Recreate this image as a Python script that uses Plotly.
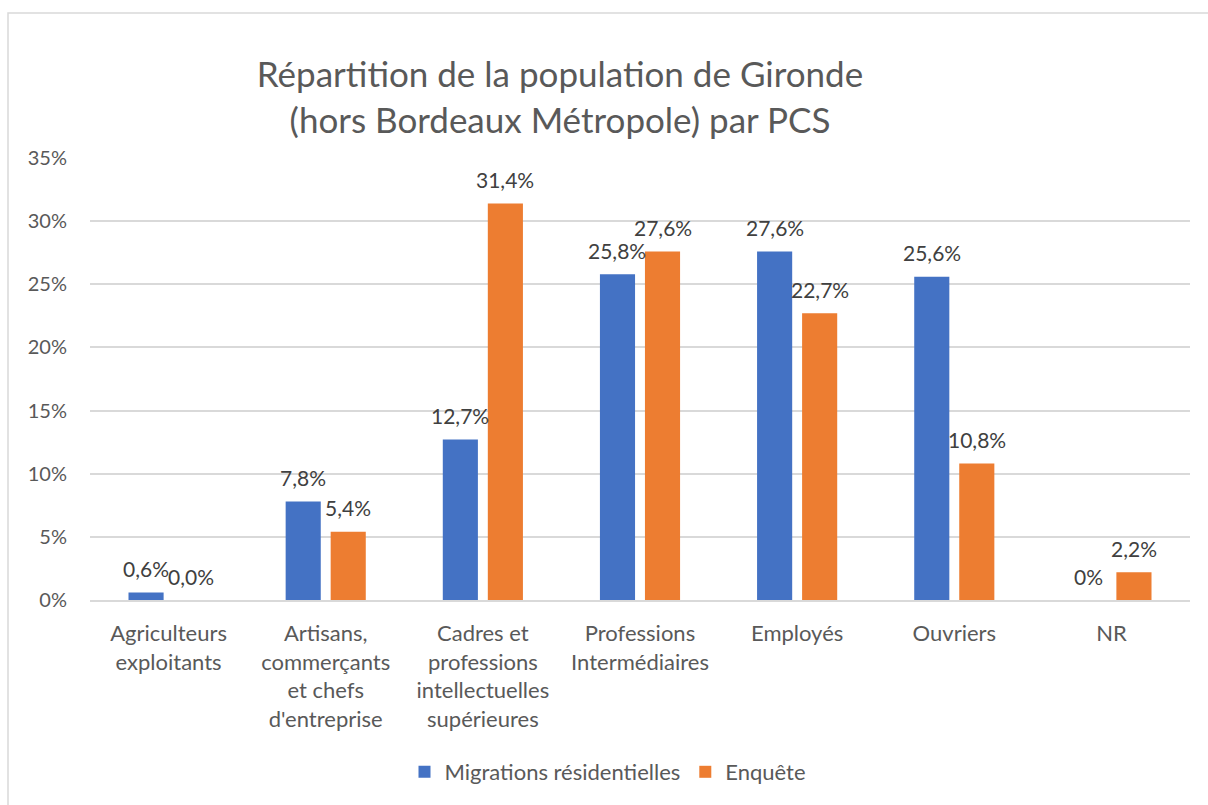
import plotly.graph_objects as go

categories = ["Agriculteurs<br>exploitants", "Artisans,<br>commerçants<br>et chefs<br>d'entreprise",
              "Cadres et<br>professions<br>intellectuelles<br>supérieures", "Professions<br>Intermédiaires",
              "Employés", "Ouvriers", "NR"]
migrations = [0.006, 0.078, 0.127, 0.258, 0.276, 0.256, 0.0]
migrations_labels = ["0,6%", "7,8%", "12,7%", "25,8%", "27,6%", "25,6%", "0%"]
enquete = [0.0, 0.054, 0.314, 0.276, 0.227, 0.108, 0.022]
enquete_labels = ["0,0%", "5,4%", "31,4%", "27,6%", "22,7%", "10,8%", "2,2%"]
y_ticks = [0, 0.05, 0.10, 0.15, 0.20, 0.25, 0.30, 0.35]
y_tick_labels = ["0%", "5%", "10%", "15%", "20%", "25%", "30%", "35%"]

FONT = "Lato"
BLUE, ORANGE = "#4472C4", "#ED7D31"
L, R, T, B = 90, 18, 158, 205
W, H = 1208, 805
pw, ph = W - L - R, H - T - B
BARGAP, BARGROUPGAP = 0.427, 0.22

fig = go.Figure()
fig.add_trace(go.Bar(x=categories, y=migrations, name="Migrations résidentielles",
                     marker=dict(color=BLUE, line=dict(width=0))))
fig.add_trace(go.Bar(x=categories, y=enquete, name="Enquête",
                     marker=dict(color=ORANGE, line=dict(width=0))))

# data labels, anchored on each bar's value through the axes
slot = pw / len(categories) * (1 - BARGAP) / 2
for labels, values, sign in ((migrations_labels, migrations, -1), (enquete_labels, enquete, 1)):
    for cat, val, lab in zip(categories, values, labels):
        fig.add_annotation(x=cat, y=val, xref="x", yref="y", text=lab, showarrow=False,
                           xshift=sign * slot / 2, yshift=24, yanchor="middle", xanchor="center",
                           font=dict(size=21, color="#404040", family=FONT))

fig.update_layout(
    width=W, height=H,
    margin=dict(l=L, r=R, t=T, b=B),
    paper_bgcolor="white", plot_bgcolor="white",
    font=dict(family=FONT, color="#595959", size=20),
    title=dict(text="Répartition de la population de Gironde<br>(hors Bordeaux Métropole) par PCS",
               x=560 / W, xanchor="center", xref="container",
               y=1 - 87 / H, yanchor="middle", yref="container",
               font=dict(size=35, color="#595959", family=FONT)),
    barmode="group", bargap=BARGAP, bargroupgap=BARGROUPGAP,
    legend=dict(orientation="h", x=(608 - L) / pw, xanchor="center",
                y=(ph - (772 - T)) / ph, yanchor="middle",
                font=dict(size=22, color="#595959", family=FONT),
                itemwidth=30, traceorder="normal"),
    showlegend=True,
)
fig.update_yaxes(range=[0, 0.35], tickvals=y_ticks, ticktext=y_tick_labels,
                 showgrid=True, gridcolor="#D9D9D9", gridwidth=1.5, zeroline=False,
                 showline=False, ticks="", ticklabelstandoff=22,
                 tickfont=dict(size=20, color="#595959", family=FONT))
fig.update_xaxes(showgrid=False, showline=True, linecolor="#D9D9D9", linewidth=1.5,
                 ticks="", tickangle=0, ticklabelstandoff=13,
                 tickfont=dict(size=22, color="#595959", family=FONT))

# chart border (extends beyond the visible area on right/bottom)
fig.add_shape(type="rect", xref="paper", yref="paper",
              x0=(8 - L) / pw, x1=(1250 - L) / pw,
              y0=(ph - (850 - T)) / ph, y1=(ph - (13 - T)) / ph,
              line=dict(color="#D9D9D9", width=1.5), fillcolor="rgba(0,0,0,0)", layer="below")

fig.write_html("out.html", config={"displayModeBar": False},
               post_script="document.body.style.margin='0';")
